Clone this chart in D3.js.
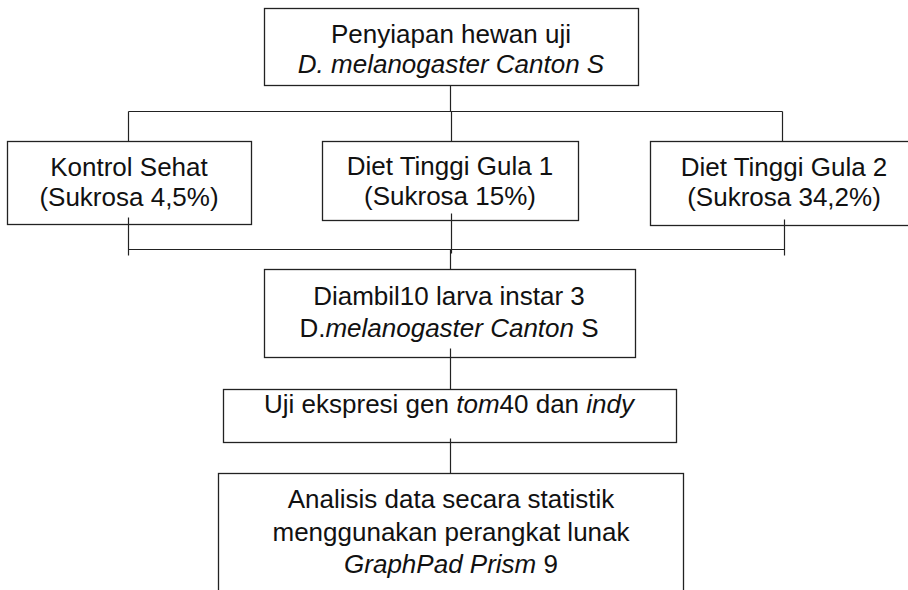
<!DOCTYPE html>
<html>
<head>
<meta charset="utf-8">
<script src="https://cdn.jsdelivr.net/npm/d3@7"></script>
<style>
  body { margin: 0; background: #fff; }
  svg text { font-family: "Liberation Sans", Arial, sans-serif; font-size: 26px; fill: #111; }
</style>
</head>
<body>
<svg id="chart"></svg>
<script>
// node labels, each line is a list of [text, italic]
var nodeIds = ["prep", "kontrol", "gula1", "gula2", "ambil", "uji", "analisis"];
var nodeLines = [
  [[["Penyiapan hewan uji", false]], [["D. melanogaster Canton S", true]]],
  [[["Kontrol Sehat", false]], [["(Sukrosa 4,5%)", false]]],
  [[["Diet Tinggi Gula 1", false]], [["(Sukrosa 15%)", false]]],
  [[["Diet Tinggi Gula 2", false]], [["(Sukrosa 34,2%)", false]]],
  [[["Diambil10 larva instar 3", false]], [["D.", false], ["melanogaster Canton", true], [" S", false]]],
  [[["Uji ekspresi gen ", false], ["tom", true], ["40 dan ", false], ["indy", true]]],
  [[["Analisis data secara statistik", false]], [["menggunakan perangkat lunak", false]], [["GraphPad Prism", true], [" 9", false]]]
];
var edgesSplit = [["prep", "kontrol"], ["prep", "gula1"], ["prep", "gula2"]];
var edgesJoin = [["kontrol", "ambil"], ["gula1", "ambil"], ["gula2", "ambil"]];
var edgesChain = [["ambil", "uji"], ["uji", "analisis"]];

var width = 908, height = 590;
var svg = d3.select("#chart").attr("width", width).attr("height", height);

// box layout (pixels)
var layout = {
  prep:     { x0: 264, x1: 638, y0: 8,   y1: 85,  cx: 451, base: 43,  lh: 30, tail: 85 },
  kontrol:  { x0: 7,   x1: 251, y0: 141, y1: 224, cx: 129, base: 176, lh: 30, tail: 217, lx: 128 },
  gula1:    { x0: 322, x1: 578, y0: 141, y1: 220, cx: 450, base: 175, lh: 30, tail: 213, lx: 451 },
  gula2:    { x0: 650, x1: 915, y0: 141, y1: 225, cx: 784, base: 176, lh: 30, tail: 219, lx: 784 },
  ambil:    { x0: 264, x1: 635, y0: 269, y1: 357, cx: 449, base: 305, lh: 32, tail: 348 },
  uji:      { x0: 223, x1: 676, y0: 389, y1: 442, cx: 449, base: 413, lh: 30, tail: 438 },
  analisis: { x0: 218, x1: 683, y0: 473, y1: 600, cx: 451, base: 508, lh: 32.5 }
};
var splitY = 111, joinY = 249;

var g = svg.append("g");

// boxes
g.selectAll("rect.node")
  .data(nodeIds)
  .enter().append("rect")
  .attr("class", "node")
  .attr("x", d => layout[d].x0 + 0.5)
  .attr("y", d => layout[d].y0 + 0.5)
  .attr("width", d => layout[d].x1 - layout[d].x0)
  .attr("height", d => layout[d].y1 - layout[d].y0)
  .attr("fill", "none")
  .attr("stroke", "#222")
  .attr("stroke-width", 1.3);

// connectors
var lines = [];
var src = layout[edgesSplit[0][0]];
lines.push([src.cx - 1, src.tail, src.cx - 1, splitY]);
var xs = edgesSplit.map(e => layout[e[1]].lx);
lines.push([d3.min(xs) - 0.5, splitY, d3.max(xs) - 2, splitY]);
edgesSplit.forEach(function (e) {
  var t = layout[e[1]];
  var x = t.lx === 784 ? 782 : t.lx;
  lines.push([x, splitY, x, t.y0]);
});
edgesJoin.forEach(function (e) {
  var s = layout[e[0]];
  lines.push([s.lx, s.tail, s.lx, e[0] === "gula1" ? joinY + 4 : joinY + 6]);
});
lines.push([d3.min(xs), joinY, d3.max(xs), joinY]);
var amb = layout.ambil;
lines.push([amb.cx + 0.5, joinY, amb.cx + 0.5, amb.y0]);
edgesChain.forEach(function (e) {
  var s = layout[e[0]], t = layout[e[1]];
  lines.push([s.cx + 0.5, s.tail, s.cx + 0.5, t.y0]);
});

g.selectAll("line.link")
  .data(lines)
  .enter().append("line")
  .attr("class", "link")
  .attr("x1", d => Math.round(d[0]) + 0.5)
  .attr("y1", d => d[1] + 0.5)
  .attr("x2", d => Math.round(d[2]) + 0.5)
  .attr("y2", d => d[3] + 0.5)
  .attr("stroke", "#222")
  .attr("stroke-width", 1.2);

// labels
nodeIds.forEach(function (id, i) {
  var L = layout[id];
  nodeLines[i].forEach(function (segs, j) {
    var t = g.append("text")
      .attr("x", L.cx)
      .attr("y", L.base + j * L.lh)
      .attr("text-anchor", "middle");
    t.selectAll("tspan")
      .data(segs)
      .enter().append("tspan")
      .attr("font-style", d => d[1] ? "italic" : "normal")
      .text(d => d[0]);
  });
});
</script>
</body>
</html>
